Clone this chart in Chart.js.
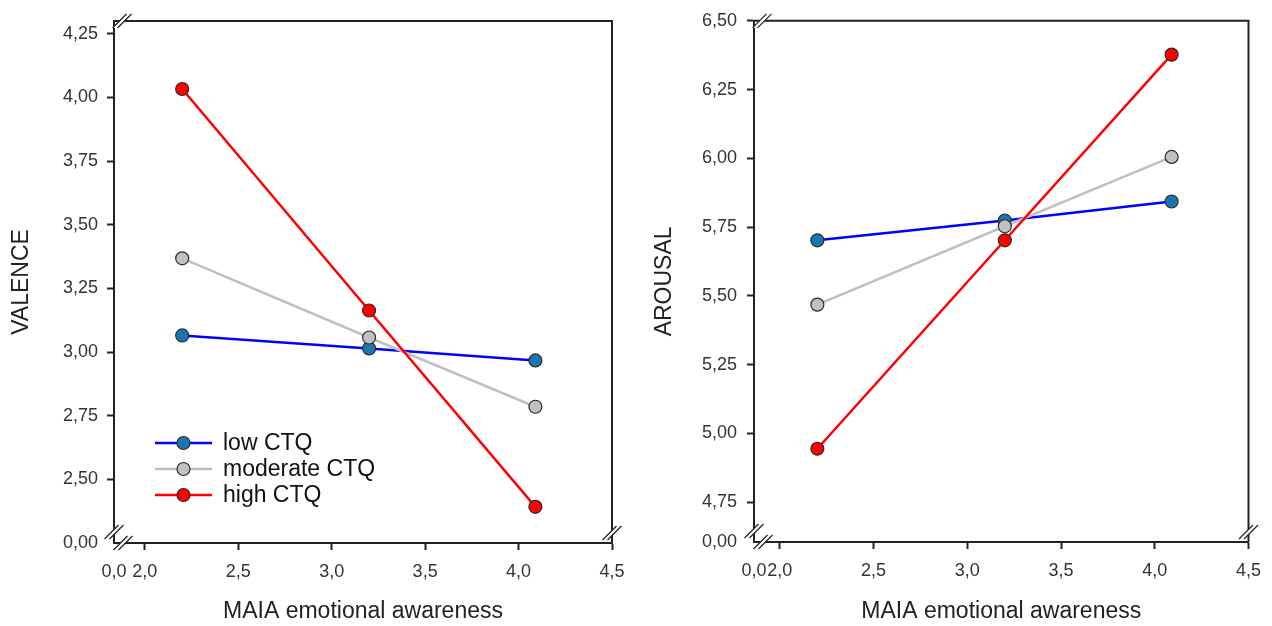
<!DOCTYPE html>
<html>
<head>
<meta charset="utf-8">
<script src="https://cdn.jsdelivr.net/npm/chart.js@4.4.1/dist/chart.umd.min.js"></script>
<style>
html, body { margin: 0; padding: 0; background: #fff; }
#wrap { position: relative; width: 1272px; height: 626px; }
.box { position: absolute; top: 0; width: 636px; height: 626px; }
#left { left: 0; }
#right { left: 636px; }
</style>
</head>
<body>
<div id="wrap">
  <div class="box" id="left"><canvas id="valenceChart"></canvas></div>
  <div class="box" id="right"><canvas id="arousalChart"></canvas></div>
</div>
<script>
// data
var groups = ['low CTQ', 'moderate CTQ', 'high CTQ']
var maiaLevels = [2.2, 3.2, 4.09]
var valenceLow = [3.065, 3.014, 2.967]
var valenceModerate = [3.368, 3.057, 2.785]
var valenceHigh = [4.033, 3.163, 2.392]
var arousalLow = [5.702, 5.774, 5.843]
var arousalModerate = [5.468, 5.753, 6.005]
var arousalHigh = [4.944, 5.702, 6.377]
var xTicks = [2.0, 2.5, 3.0, 3.5, 4.0, 4.5]
var valenceTicks = [2.50, 2.75, 3.00, 3.25, 3.50, 3.75, 4.00, 4.25]
var arousalTicks = [4.75, 5.00, 5.25, 5.50, 5.75, 6.00, 6.25, 6.50]
var breakLabelX = '0,0'
var breakLabelY = '0,00'

var lineColors = ['#0000ff', '#c0c0c0', '#ff0000']
var pointColors = ['#1b75b3', '#c0c0c0', '#ff0000']

Chart.defaults.font.family = '"Liberation Sans", Arial, sans-serif'

function series(vals) {
    return maiaLevels.map(function (x, i) { return { x: x, y: vals[i] } })
}

function dataset(i, vals) {
    return {
        label: groups[i],
        data: series(vals),
        borderColor: lineColors[i],
        backgroundColor: pointColors[i],
        pointBackgroundColor: pointColors[i],
        pointBorderColor: '#2b2b2b',
        pointBorderWidth: 1.2,
        pointRadius: 6.5,
        borderWidth: 2.5,
        showLine: true,
        tension: 0,
        order: 2 - i // red on top
    }
}

// legend drawn inside the plot (SigmaPlot style)
var insideLegend = {
    id: 'insideLegend',
    afterDraw: function (chart, args, opts) {
        if (!opts.display) return
        var ctx = chart.ctx
        ctx.save()
        ctx.font = opts.fontSize + 'px "Liberation Sans", Arial, sans-serif'
        ctx.textBaseline = 'middle'
        chart.data.datasets.forEach(function (ds, i) {
            var y = opts.top + i * opts.rowHeight
            ctx.strokeStyle = ds.borderColor
            ctx.lineWidth = 2.5
            ctx.beginPath()
            ctx.moveTo(opts.left, y)
            ctx.lineTo(opts.left + opts.lineWidth, y)
            ctx.stroke()
            ctx.beginPath()
            ctx.arc(opts.left + opts.lineWidth / 2, y, 6.5, 0, Math.PI * 2)
            ctx.fillStyle = ds.pointBackgroundColor
            ctx.fill()
            ctx.strokeStyle = '#2b2b2b'
            ctx.lineWidth = 1.2
            ctx.stroke()
            ctx.fillStyle = '#111'
            ctx.fillText(ds.label, opts.left + opts.lineWidth + 11, y + 1)
        })
        ctx.restore()
    }
}

// top/right frame and the // axis break marks
function slash(ctx, cx, cy) {
    var a = 7, d = 2.5
    ctx.fillStyle = '#fff'
    ctx.beginPath()
    ctx.moveTo(cx - a - d, cy + a)
    ctx.lineTo(cx + a - d, cy - a)
    ctx.lineTo(cx + a + d, cy - a)
    ctx.lineTo(cx - a + d, cy + a)
    ctx.closePath()
    ctx.fill()
    ctx.beginPath()
    ctx.moveTo(cx - a - d, cy + a); ctx.lineTo(cx + a - d, cy - a)
    ctx.moveTo(cx - a + d, cy + a); ctx.lineTo(cx + a + d, cy - a)
    ctx.stroke()
}
var frameBreaks = {
    id: 'frameBreaks',
    afterDraw: function (chart) {
        var a = chart.chartArea, ctx = chart.ctx
        ctx.save()
        ctx.strokeStyle = '#222'
        ctx.lineWidth = 2
        ctx.beginPath()
        ctx.moveTo(a.left, a.top); ctx.lineTo(a.right, a.top); ctx.lineTo(a.right, a.bottom)
        ctx.stroke()
        ctx.lineWidth = 1.2
        slash(ctx, a.left + 8, a.top)
        slash(ctx, a.left, a.bottom - 11)
        slash(ctx, a.left + 9, a.bottom)
        slash(ctx, a.right, a.bottom - 10)
        ctx.restore()
    }
}

function options(cfg) {
    return {
        responsive: true,
        maintainAspectRatio: false,
        animation: false,
        layout: { padding: { top: cfg.padTop, right: cfg.padRight, left: 0, bottom: 0 } },
        plugins: {
            legend: { display: false },
            tooltip: { enabled: false },
            insideLegend: { display: cfg.legend, left: 155, top: 443, rowHeight: 26, lineWidth: 57, fontSize: 23 }
        },
        scales: {
            x: {
                type: 'linear',
                min: cfg.xMin,
                max: 4.5,
                afterFit: function (s) { s.height = cfg.xHeight },
                afterBuildTicks: function (s) {
                    s.ticks = [{ value: cfg.xMin }].concat(xTicks.map(function (v) { return { value: v } }))
                },
                grid: {
                    drawOnChartArea: false,
                    tickLength: 7,
                    tickWidth: 2,
                    tickColor: function (c) { return c.index === 0 ? 'rgba(0,0,0,0)' : '#222' }
                },
                border: { color: '#222', width: 2 },
                ticks: {
                    autoSkip: false,
                    maxRotation: 0,
                    padding: 11,
                    color: '#333',
                    font: { size: 18 },
                    callback: function (v, i) { return i === 0 ? breakLabelX : v.toFixed(1).replace('.', ',') }
                },
                title: {
                    display: true,
                    text: 'MAIA emotional awareness',
                    color: '#222',
                    font: { size: 23 },
                    padding: { top: 0, bottom: 1 }
                }
            },
            y: {
                type: 'linear',
                min: cfg.yMin,
                max: cfg.yMax,
                afterFit: function (s) { s.width = cfg.yWidth },
                afterBuildTicks: function (s) {
                    s.ticks = [{ value: cfg.yMin }].concat(cfg.yTicks.map(function (v) { return { value: v } }))
                },
                grid: {
                    drawOnChartArea: false,
                    tickLength: 7,
                    tickWidth: 2,
                    tickColor: function (c) { return c.index === 0 ? 'rgba(0,0,0,0)' : '#222' }
                },
                border: { color: '#222', width: 2 },
                ticks: {
                    autoSkip: false,
                    padding: cfg.yPad,
                    color: '#333',
                    font: { size: 18 },
                    callback: function (v, i) { return i === 0 ? breakLabelY : v.toFixed(2).replace('.', ',') }
                },
                title: {
                    display: true,
                    text: cfg.yTitle,
                    color: '#222',
                    font: { size: 23 },
                    padding: { top: cfg.yTitlePad, bottom: 0 }
                }
            }
        }
    }
}

new Chart(document.getElementById('valenceChart'), {
    type: 'line',
    data: {
        datasets: [dataset(0, valenceLow), dataset(1, valenceModerate), dataset(2, valenceHigh)]
    },
    options: options({
        xMin: 1.835, yMin: 2.25, yMax: 4.30, yTicks: valenceTicks, yTitle: 'VALENCE',
        padTop: 21, padRight: 24, yWidth: 114, xHeight: 83, yPad: 9, yTitlePad: 8, legend: true
    }),
    plugins: [insideLegend, frameBreaks]
})

new Chart(document.getElementById('arousalChart'), {
    type: 'line',
    data: {
        datasets: [dataset(0, arousalLow), dataset(1, arousalModerate), dataset(2, arousalHigh)]
    },
    options: options({
        xMin: 1.862, yMin: 4.605, yMax: 6.50, yTicks: arousalTicks, yTitle: 'AROUSAL',
        padTop: 18, padRight: 22, yWidth: 118, xHeight: 84, yPad: 10, yTitlePad: 15, legend: false
    }),
    plugins: [insideLegend, frameBreaks]
})
</script>
</body>
</html>
